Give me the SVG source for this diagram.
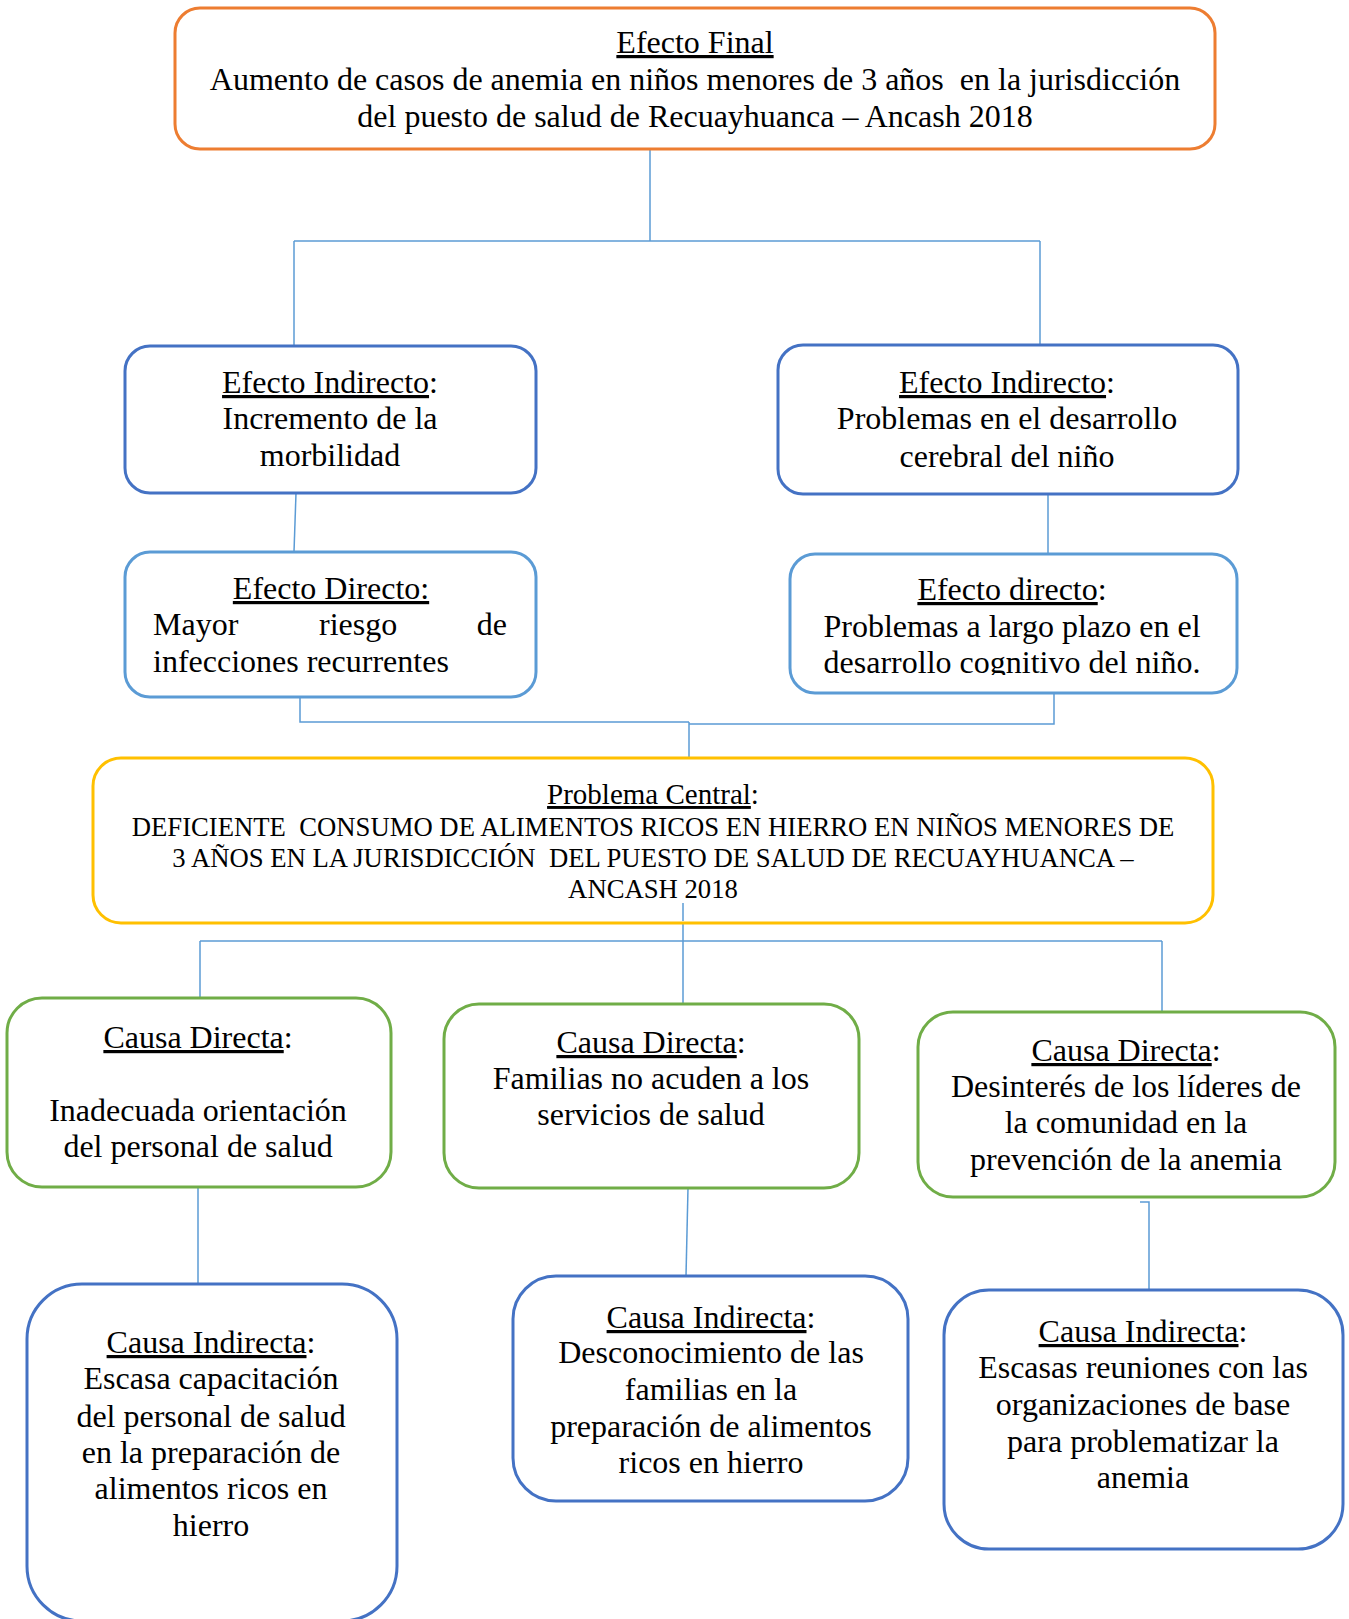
<svg xmlns="http://www.w3.org/2000/svg" width="1349" height="1619" viewBox="0 0 1349 1619">
<style>
text{font-family:"Liberation Serif","Times New Roman",serif;fill:#000;}
.t{font-size:32px;text-anchor:middle;}
.tl{font-size:32px;}
.caps{font-size:26.7px;text-anchor:middle;}
.pc{font-size:29px;text-anchor:middle;}
.u{text-decoration:underline;}
.pre{white-space:pre;}
.box{fill:#fff;stroke-width:3;}
.orange{stroke:#ED7D31;}
.blue{stroke:#4472C4;}
.lblue{stroke:#5B9BD5;}
.gold{stroke:#FFC000;}
.green{stroke:#70AD47;}
.conn{stroke:#5B9BD5;stroke-width:1.5;fill:none;}
</style>
<defs>
<clipPath id="clipED"><rect x="780" y="550" width="470" height="125"/></clipPath>
</defs>
<rect width="1349" height="1619" fill="#fff"/>
<g id="connectors">
<line class="conn" x1="650" y1="149" x2="650" y2="241"/>
<line class="conn" x1="294" y1="241" x2="1040" y2="241"/>
<line class="conn" x1="294" y1="241" x2="294" y2="346"/>
<line class="conn" x1="1040" y1="241" x2="1040" y2="345"/>
<line class="conn" x1="296" y1="493" x2="294" y2="552"/>
<line class="conn" x1="1048" y1="494" x2="1048" y2="554"/>
<polyline class="conn" points="300,697 300,722 689,722"/>
<polyline class="conn" points="689,724 1054,724 1054,693"/>
<line class="conn" x1="689" y1="722" x2="689" y2="759"/>
<line class="conn" x1="683" y1="903" x2="683" y2="1005"/>
<line class="conn" x1="200" y1="941" x2="1162" y2="941"/>
<line class="conn" x1="200" y1="941" x2="200" y2="998"/>
<line class="conn" x1="1162" y1="941" x2="1162" y2="1012"/>
<line class="conn" x1="198" y1="1187" x2="198" y2="1284"/>
<line class="conn" x1="688" y1="1188" x2="686" y2="1276"/>
<polyline class="conn" points="1140,1202 1149,1202 1149,1290"/>
</g>
<g id="efecto-final">
<rect class="box orange" x="175" y="8" width="1040" height="141" rx="25"/>
<text class="t" x="695" y="53"><tspan class="u">Efecto Final</tspan></text>
<text class="t pre" x="695" y="90" xml:space="preserve">Aumento de casos de anemia en niños menores de 3 años  en la jurisdicción</text>
<text class="t" x="695" y="127">del puesto de salud de Recuayhuanca – Ancash 2018</text>
</g>
<g id="efecto-indirecto-1">
<rect class="box blue" x="125" y="346" width="411" height="147" rx="25"/>
<text class="t" x="330" y="393"><tspan class="u">Efecto Indirecto</tspan>:</text>
<text class="t" x="330" y="429">Incremento de la</text>
<text class="t" x="330" y="466">morbilidad</text>
</g>
<g id="efecto-indirecto-2">
<rect class="box blue" x="778" y="345" width="460" height="149" rx="25"/>
<text class="t" x="1007" y="393"><tspan class="u">Efecto Indirecto</tspan>:</text>
<text class="t" x="1007" y="429">Problemas en el desarrollo</text>
<text class="t" x="1007" y="467">cerebral del niño</text>
</g>
<g id="efecto-directo-1">
<rect class="box lblue" x="125" y="552" width="411" height="145" rx="25"/>
<text class="t" x="331" y="599"><tspan class="u">Efecto Directo:</tspan></text>
<text class="tl" x="153" y="635">Mayor</text>
<text class="tl" x="319" y="635">riesgo</text>
<text class="tl" x="507" y="635" text-anchor="end">de</text>
<text class="tl" x="153" y="672">infecciones recurrentes</text>
</g>
<g id="efecto-directo-2">
<rect class="box lblue" x="790" y="554" width="447" height="139" rx="25"/>
<g clip-path="url(#clipED)">
<text class="t" x="1012" y="600"><tspan class="u">Efecto directo</tspan>:</text>
<text class="t" x="1012" y="637">Problemas a largo plazo en el</text>
<text class="t" x="1012" y="673">desarrollo cognitivo del niño.</text>
</g>
</g>
<g id="problema-central">
<rect class="box gold" x="93" y="758" width="1120" height="165" rx="28"/>
<line class="conn" x1="683" y1="903" x2="683" y2="921"/>
<text class="pc" x="653" y="804"><tspan class="u">Problema Central</tspan>:</text>
<text class="caps pre" x="653" y="836" xml:space="preserve">DEFICIENTE  CONSUMO DE ALIMENTOS RICOS EN HIERRO EN NIÑOS MENORES DE</text>
<text class="caps pre" x="653" y="867" xml:space="preserve">3 AÑOS EN LA JURISDICCIÓN  DEL PUESTO DE SALUD DE RECUAYHUANCA –</text>
<text class="caps" x="653" y="898">ANCASH 2018</text>
</g>
<g id="causa-directa-1">
<rect class="box green" x="7" y="998" width="384" height="189" rx="35"/>
<text class="t" x="198" y="1048"><tspan class="u">Causa Directa</tspan>:</text>
<text class="t" x="198" y="1121">Inadecuada orientación</text>
<text class="t" x="198" y="1157">del personal de salud</text>
</g>
<g id="causa-directa-2">
<rect class="box green" x="444" y="1004" width="415" height="184" rx="35"/>
<text class="t" x="651" y="1053"><tspan class="u">Causa Directa</tspan>:</text>
<text class="t" x="651" y="1089">Familias no acuden a los</text>
<text class="t" x="651" y="1125">servicios de salud</text>
</g>
<g id="causa-directa-3">
<rect class="box green" x="918" y="1012" width="417" height="185" rx="35"/>
<text class="t" x="1126" y="1061"><tspan class="u">Causa Directa</tspan>:</text>
<text class="t" x="1126" y="1097">Desinterés de los líderes de</text>
<text class="t" x="1126" y="1133">la comunidad en la</text>
<text class="t" x="1126" y="1170">prevención de la anemia</text>
</g>
<g id="causa-indirecta-1">
<rect class="box blue" x="27" y="1284" width="370" height="337" rx="55"/>
<text class="t" x="211" y="1353"><tspan class="u">Causa Indirecta</tspan>:</text>
<text class="t" x="211" y="1389">Escasa capacitación</text>
<text class="t" x="211" y="1427">del personal de salud</text>
<text class="t" x="211" y="1463">en la preparación de</text>
<text class="t" x="211" y="1499">alimentos ricos en</text>
<text class="t" x="211" y="1536">hierro</text>
</g>
<g id="causa-indirecta-2">
<rect class="box blue" x="513" y="1276" width="395" height="225" rx="43"/>
<text class="t" x="711" y="1328"><tspan class="u">Causa Indirecta</tspan>:</text>
<text class="t" x="711" y="1363">Desconocimiento de las</text>
<text class="t" x="711" y="1400">familias en la</text>
<text class="t" x="711" y="1437">preparación de alimentos</text>
<text class="t" x="711" y="1473">ricos en hierro</text>
</g>
<g id="causa-indirecta-3">
<rect class="box blue" x="944" y="1290" width="399" height="259" rx="45"/>
<text class="t" x="1143" y="1342"><tspan class="u">Causa Indirecta</tspan>:</text>
<text class="t" x="1143" y="1378">Escasas reuniones con las</text>
<text class="t" x="1143" y="1415">organizaciones de base</text>
<text class="t" x="1143" y="1452">para problematizar la</text>
<text class="t" x="1143" y="1488">anemia</text>
</g>
</svg>
